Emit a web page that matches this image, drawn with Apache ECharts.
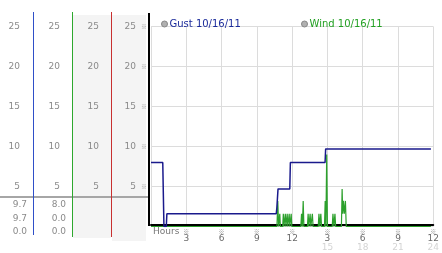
<!DOCTYPE html>
<html><head><meta charset="utf-8">
<script src="https://cdn.jsdelivr.net/npm/echarts@6/dist/echarts.min.js"></script>
<style>html,body{margin:0;padding:0;background:#fff}#c{width:442px;height:253px}</style>
</head><body><div id="c"></div>
<script>
// ---- data ----
const gustName = 'Gust 10/16/11';
const windName = 'Wind 10/16/11';
const gustHours  = [0, 1.0, 1.1, 1.3, 1.35, 10.65, 10.7, 10.8, 11.8, 11.85, 14.8, 14.85, 23.8];
const gustSpeeds = [8.0, 8.0, 0, 0, 1.6, 1.6, 2.3, 4.7, 4.7, 8.0, 8.0, 9.7, 9.7];
const windHours = [0,
  10.71, 10.78, 10.85, 10.90, 10.95, 11.00, 11.20, 11.25, 11.30, 11.37, 11.42, 11.47,
  11.53, 11.58, 11.63, 11.70, 11.75, 11.80, 11.87, 11.92, 11.97,
  12.74, 12.80, 12.87, 12.94, 13.00,
  13.30, 13.36, 13.42, 13.48, 13.53, 13.59, 13.66, 13.72, 13.78,
  14.22, 14.28, 14.35, 14.44, 14.50,
  14.75, 14.81, 14.87, 14.94, 15.00,
  15.41, 15.47, 15.55, 15.64, 15.70,
  16.19, 16.25, 16.30, 16.36, 16.44, 16.53, 16.60,
  23.8];
const windSpeeds = [0,
  0, 3.2, 0, 0, 1.6, 0, 0, 1.6, 0, 0, 1.6, 0,
  0, 1.6, 0, 0, 1.6, 0, 0, 1.6, 0,
  0, 1.6, 0, 3.2, 0,
  0, 1.6, 0, 0, 1.6, 0, 0, 1.6, 0,
  0, 1.6, 0, 1.6, 0,
  0, 3.2, 0, 9.0, 0,
  0, 1.6, 0, 1.6, 0,
  0, 4.7, 1.6, 3.2, 1.6, 3.2, 0,
  0];
const xTickHours    = [3, 6, 9, 12, 15, 18, 21, 24];
const xTopLabels    = ['3', '6', '9', '12', '3', '6', '9', '12'];
const xBottomLabels = ['', '', '', '', '15', '18', '21', '24'];
const gustStats = ['9.7', '9.7', '0.0'];
const windStats = ['8.0', '0.0', '0.0'];

// ---- chart ----
const FONT = 'DejaVu Sans';
const LBL = '#8a8a8a';
const zip = (a, b) => a.map((v, i) => [v, b[i]]);

function sideAxis(offset, margin, withMark) {
  return {
    type: 'value', position: 'left', min: 0, max: 25, interval: 5, offset: offset,
    axisLine: { show: false }, axisTick: { show: false },
    splitLine: { show: withMark, lineStyle: { color: '#dcdcdc', width: 1 } },
    axisLabel: {
      margin: margin, color: LBL, fontSize: 9, fontFamily: FONT,
      formatter: v => v === 0 ? '' : (withMark ? '{v|' + v + '}{m|※}' : String(v)),
      rich: withMark ? {
        v: { color: LBL, fontSize: 9, fontFamily: FONT },
        m: { color: '#999', fontSize: 6, fontFamily: 'Noto Sans CJK SC', padding: [0, 0, 0, 5] }
      } : undefined
    }
  };
}

const statTexts = [];
gustStats.forEach((s, i) => statTexts.push({ type: 'text', z: 50, style: { text: s, x: 27, y: 205 + i * 13.5, align: 'right', verticalAlign: 'middle', fill: LBL, fontSize: 9, fontFamily: FONT } }));
windStats.forEach((s, i) => statTexts.push({ type: 'text', z: 50, style: { text: s, x: 66, y: 205 + i * 13.5, align: 'right', verticalAlign: 'middle', fill: LBL, fontSize: 9, fontFamily: FONT } }));

const chart = echarts.init(document.getElementById('c'), null, { renderer: 'canvas' });
chart.setOption({
  animation: false,
  backgroundColor: '#fff',
  grid: { left: 151, top: 26.5, width: 288, height: 200, containLabel: false },
  legend: [
    { data: [{ name: gustName, textStyle: { color: '#1a2a9a' } }], left: 156, top: 14, icon: 'circle', itemWidth: 6, itemHeight: 6, itemGap: 0,
      itemStyle: { color: '#b0b0b0', borderColor: '#888', borderWidth: 1 }, textStyle: { fontSize: 10, fontFamily: FONT, padding: [0, 0, 0, -3] }, selectedMode: false },
    { data: [{ name: windName, textStyle: { color: '#22a022' } }], left: 296, top: 14, icon: 'circle', itemWidth: 6, itemHeight: 6, itemGap: 0,
      itemStyle: { color: '#b0b0b0', borderColor: '#888', borderWidth: 1 }, textStyle: { fontSize: 10, fontFamily: FONT, padding: [0, 0, 0, -3] }, selectedMode: false }
  ],
  xAxis: {
    type: 'value', min: 0, max: 24, interval: 3, offset: -1.5,
    axisLine: { show: true, lineStyle: { color: '#000', width: 2 } },
    axisTick: { show: false },
    splitLine: { show: true, lineStyle: { color: '#dcdcdc', width: 1 } },
    axisLabel: {
      margin: 3, fontFamily: FONT,
      formatter: v => {
        const i = xTickHours.indexOf(v);
        if (i < 0) return '';
        return '{m|※}\n{a|' + xTopLabels[i] + '}\n{b|' + (xBottomLabels[i] || ' ') + '}';
      },
      rich: {
        m: { fontSize: 6, lineHeight: 7, color: '#888', fontFamily: 'Noto Sans CJK SC' },
        a: { fontSize: 9, lineHeight: 8, color: '#6a6a6a', fontFamily: FONT },
        b: { fontSize: 9, lineHeight: 9, color: '#d4d4d4', fontFamily: FONT }
      }
    }
  },
  yAxis: [
    sideAxis(2, 2, true),
    sideAxis(40, 12, false),
    sideAxis(79, 12, false),
    sideAxis(118, 13, false)
  ],
  graphic: [
    { type: 'rect', z: -100, shape: { x: 73, y: 15, width: 38, height: 223 }, style: { fill: '#f4f4f4' } },
    { type: 'rect', z: -100, shape: { x: 112, y: 15, width: 34, height: 226 }, style: { fill: '#f4f4f4' } },
    { type: 'line', z: 40, shape: { x1: 0, y1: 197, x2: 149, y2: 197 }, style: { stroke: '#a6a6a6', lineWidth: 2 } },
    { type: 'line', z: 41, shape: { x1: 33.5, y1: 12, x2: 33.5, y2: 235 }, style: { stroke: '#2f4fc8', lineWidth: 1 } },
    { type: 'line', z: 41, shape: { x1: 72.5, y1: 12, x2: 72.5, y2: 237 }, style: { stroke: '#2ea82e', lineWidth: 1 } },
    { type: 'line', z: 41, shape: { x1: 111.5, y1: 12, x2: 111.5, y2: 237 }, style: { stroke: '#c83030', lineWidth: 1 } },
    { type: 'line', z: 41, shape: { x1: 149, y1: 13, x2: 149, y2: 226 }, style: { stroke: '#000', lineWidth: 2 } },
    { type: 'text', z: 50, style: { text: 'Hours', x: 153, y: 232, align: 'left', verticalAlign: 'middle', fill: '#777', fontSize: 9, fontFamily: FONT } }
  ].concat(statTexts),
  series: [
    { name: gustName, type: 'line', data: zip(gustHours, gustSpeeds), showSymbol: false, symbol: 'none',
      lineStyle: { color: '#1a1a8c', width: 1.5 }, itemStyle: { color: '#1a1a8c' }, z: 3 },
    { name: windName, type: 'line', data: zip(windHours, windSpeeds), showSymbol: false, symbol: 'none',
      lineStyle: { color: '#2ca02c', width: 1.2 }, itemStyle: { color: '#2ca02c' }, z: 2 }
  ]
});
</script>
</body></html>
